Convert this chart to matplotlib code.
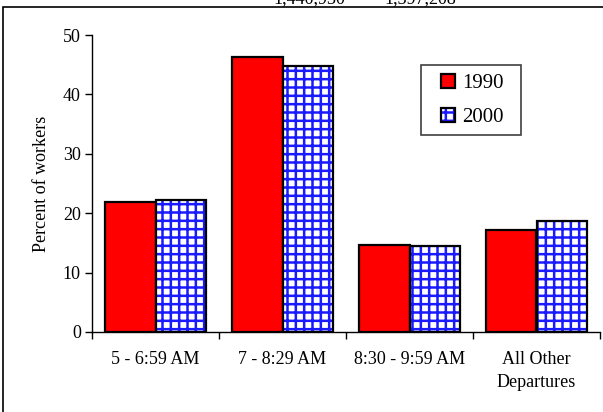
import numpy as np
import matplotlib
matplotlib.use("Agg")
import matplotlib.pyplot as plt
from matplotlib.patches import Rectangle, Patch

plt.rcParams['font.family'] = ['Liberation Serif', 'DejaVu Serif']
plt.rcParams['hatch.linewidth'] = 1.8

# data
categories = ['5 - 6:59 AM', '7 - 8:29 AM', '8:30 - 9:59 AM', 'All Other\nDepartures']
pct_1990 = [21.9, 46.3, 14.6, 17.2]
pct_2000 = [22.2, 44.7, 14.4, 18.7]
years = ['1990', '2000']
totals = ['1,440,930', '1,397,208']

fig = plt.figure(figsize=(6.03, 4.12), dpi=100)
ax = fig.add_axes([92/603, 80/412, 508/603, 297/412])

x = np.arange(len(categories))
w = 0.4
ax.bar(x - w/2, pct_1990, w, color='#ff0000', edgecolor='black', linewidth=1.6)
# blue grid fill first, black outline on top (hatch takes the edge colour)
ax.bar(x + w/2, pct_2000, w, color='white', edgecolor='#1a1aff', linewidth=0, hatch='++')
ax.bar(x + w/2, pct_2000, w, fill=False, edgecolor='black', linewidth=1.6)

ax.set_xlim(-0.5, len(categories) - 0.5)
ax.set_ylim(0, 50)
ax.set_yticks([0, 10, 20, 30, 40, 50])
ax.tick_params(axis='y', direction='out', length=5, width=1, labelsize=13, pad=3)
ax.set_xticks(np.arange(len(categories) + 1) - 0.5)
ax.set_xticklabels([])
ax.tick_params(axis='x', which='major', direction='out', length=5, width=1)
ax.set_xticks(x, minor=True)
ax.set_xticklabels(categories, minor=True, fontsize=13, linespacing=1.45, va='top')
ax.tick_params(axis='x', which='minor', length=0, pad=14)
for s in ['top', 'right']:
    ax.spines[s].set_visible(False)
ax.spines['left'].set_linewidth(1)
ax.spines['bottom'].set_linewidth(1)
ax.set_ylabel('Percent of workers', fontsize=13)
ax.yaxis.set_label_coords(-42/508, 0.5)

h1990 = Patch(facecolor='#ff0000', edgecolor='black', linewidth=1.6)
h2000 = (Patch(facecolor='white', edgecolor='#1a1aff', linewidth=0, hatch='++'),
         Patch(fill=False, edgecolor='black', linewidth=1.6))
ax.legend([h1990, h2000], years, loc='upper left',
          bbox_to_anchor=(441/603, 1 - 74/412), bbox_transform=fig.transFigure,
          fontsize=15, frameon=False, handlelength=0.67, handleheight=0.67,
          handletextpad=0.34, labelspacing=0.68, borderpad=0, borderaxespad=0)
# legend box
fig.patches.append(Rectangle((421/603, 1 - 135/412), 100/603, 70/412,
                             transform=fig.transFigure, fill=False,
                             edgecolor='#404040', linewidth=1.2))

# outer frame of the original page, partly outside the image
fig.patches.append(Rectangle((3/603, -0.1), 1.2, (1 - 7/412) + 0.1,
                             transform=fig.transFigure, fill=False,
                             edgecolor='black', linewidth=1.2))

# header line above the frame, cut by the top edge as in the source
fig.text(309/603, 1 - 3/412, totals[0], ha='center', va='baseline', fontsize=13)
fig.text(420/603, 1 - 3/412, totals[1], ha='center', va='baseline', fontsize=13)

fig.savefig('out.png', dpi=100)
